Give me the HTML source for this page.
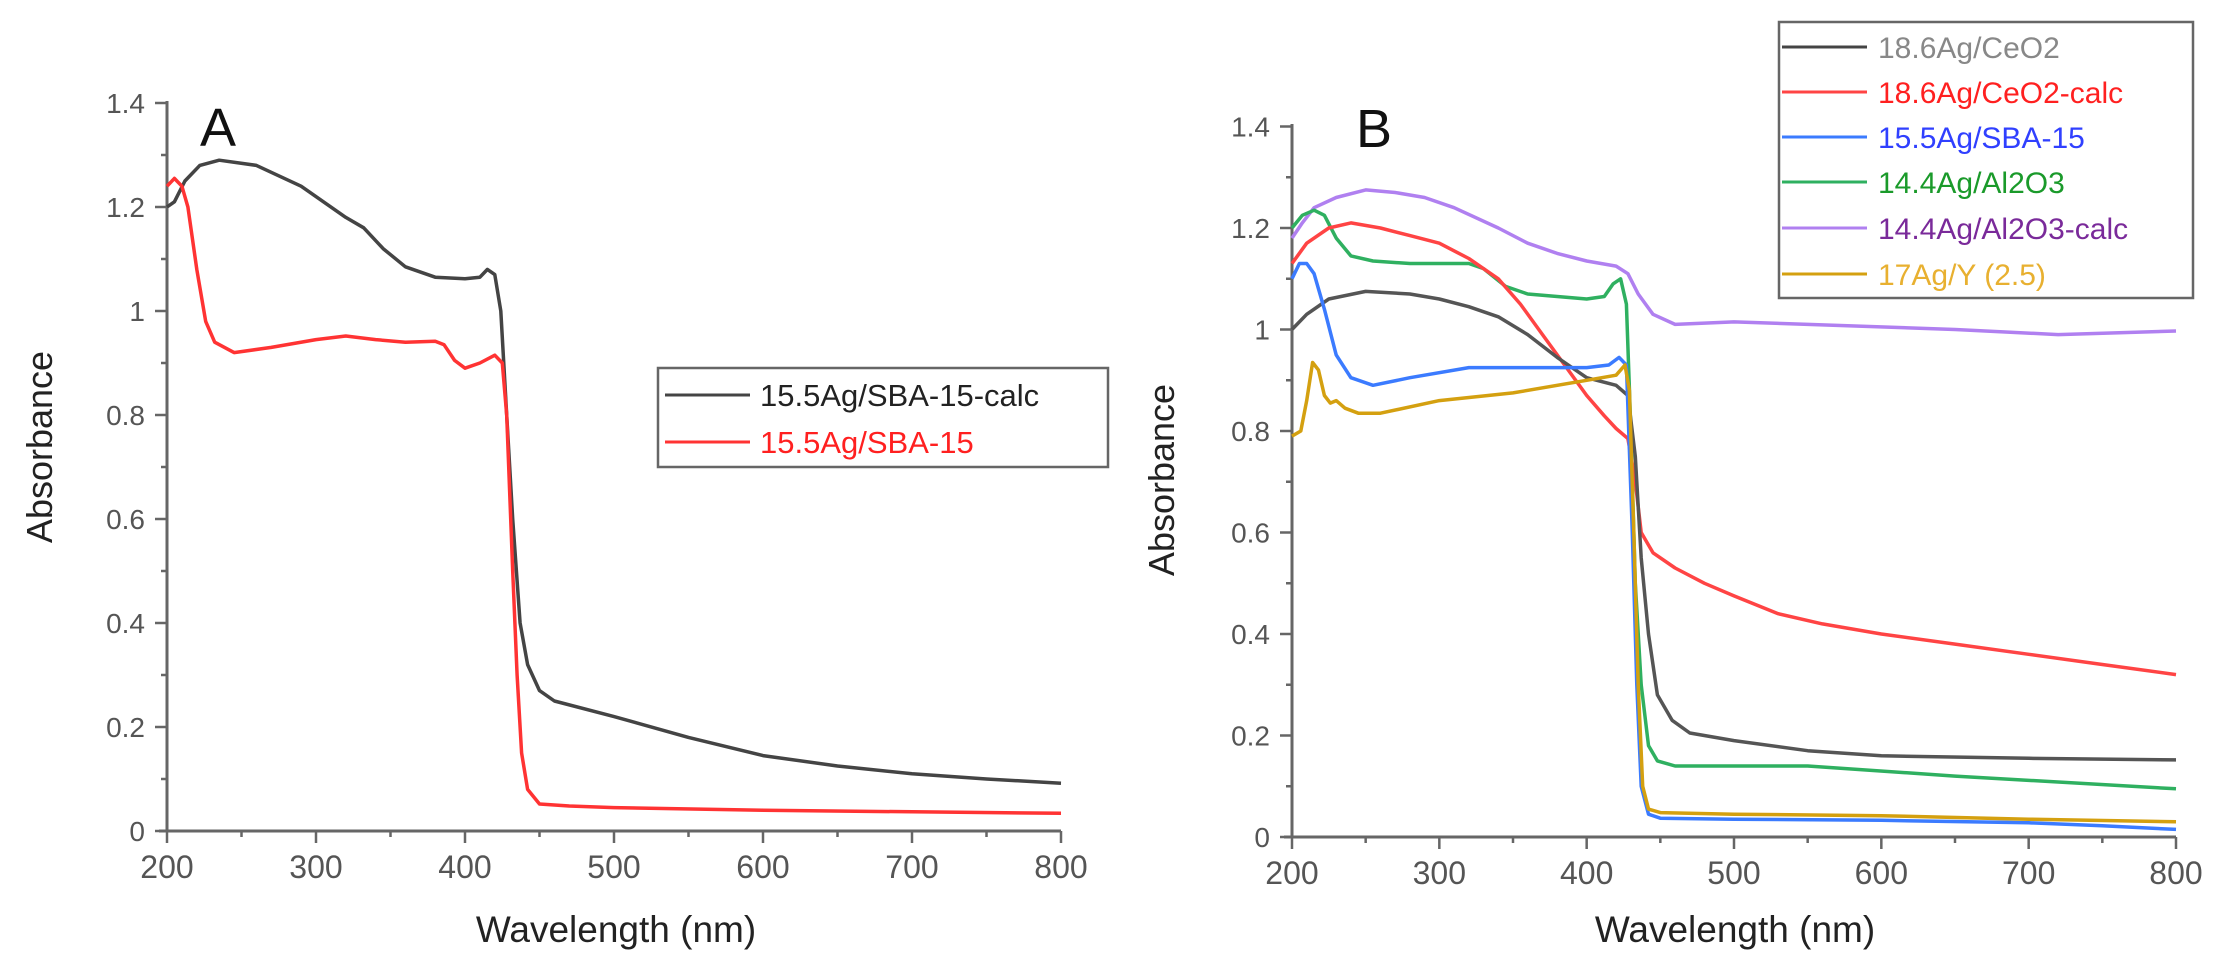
<!DOCTYPE html>
<html><head><meta charset="utf-8"><style>
html,body{margin:0;padding:0;background:#fff;}
svg{display:block;font-family:"Liberation Sans",Arial,sans-serif;}
</style></head><body>
<svg id="s" width="2232" height="968" viewBox="0 0 2232 968" xmlns="http://www.w3.org/2000/svg">
<rect width="2232" height="968" fill="#fff"/>
<g id="g"></g>
<!-- Panel A texts -->
<text x="200" y="146" font-size="54" fill="#111">A</text>
<text transform="translate(52,447) rotate(-90)" font-size="36" fill="#222" text-anchor="middle">Absorbance</text>
<text x="616" y="942" font-size="37" fill="#222" text-anchor="middle">Wavelength (nm)</text>
<rect x="658" y="368" width="450" height="99" fill="#fff" stroke="#666" stroke-width="2.5"/>
<line x1="665" y1="395" x2="750" y2="395" stroke="#444" stroke-width="3"/>
<line x1="665" y1="442" x2="750" y2="442" stroke="#ff3333" stroke-width="3"/>
<text x="760" y="406" font-size="31" fill="#222">15.5Ag/SBA-15-calc</text>
<text x="760" y="453" font-size="31" fill="#ff2020">15.5Ag/SBA-15</text>
<!-- Panel B texts -->
<text x="1356" y="147" font-size="54" fill="#111">B</text>
<text transform="translate(1174,480) rotate(-90)" font-size="36" fill="#222" text-anchor="middle">Absorbance</text>
<text x="1735" y="942" font-size="37" fill="#222" text-anchor="middle">Wavelength (nm)</text>
<rect x="1779" y="22" width="414" height="276" fill="#fff" stroke="#666" stroke-width="2.5"/>
<g stroke-width="3">
<line x1="1782" y1="47" x2="1867" y2="47" stroke="#444"/>
<line x1="1782" y1="92" x2="1867" y2="92" stroke="#ff4444"/>
<line x1="1782" y1="137" x2="1867" y2="137" stroke="#3b7bff"/>
<line x1="1782" y1="182" x2="1867" y2="182" stroke="#2fb060"/>
<line x1="1782" y1="228" x2="1867" y2="228" stroke="#b080f0"/>
<line x1="1782" y1="274" x2="1867" y2="274" stroke="#d4a010"/>
</g>
<g font-size="30">
<text x="1878" y="58" fill="#888">18.6Ag/CeO2</text>
<text x="1878" y="103" fill="#ff2020">18.6Ag/CeO2-calc</text>
<text x="1878" y="148" fill="#3040ff">15.5Ag/SBA-15</text>
<text x="1878" y="193" fill="#1a9a2a">14.4Ag/Al2O3</text>
<text x="1878" y="239" fill="#7a2a9a">14.4Ag/Al2O3-calc</text>
<text x="1878" y="285" fill="#e8b030">17Ag/Y (2.5)</text>
</g>
</svg>
<script>
var g=document.getElementById('g');var NS='http://www.w3.org/2000/svg';
function el(t,a){var e=document.createElementNS(NS,t);for(var k in a)e.setAttribute(k,a[k]);g.appendChild(e);return e;}
function axes(P){
 var ax='#666';
 el('line',{x1:P.x0,y1:P.yTop-2,x2:P.x0,y2:P.y0,stroke:ax,'stroke-width':3});
 el('line',{x1:P.x0-8,y1:P.y0,x2:P.x1,y2:P.y0,stroke:ax,'stroke-width':3});
 for(var i=0;i<=14;i++){var y=P.y0-i*P.u/10;var maj=i%2==0;
  el('line',{x1:P.x0-(maj?12:6),y1:y,x2:P.x0,y2:y,stroke:ax,'stroke-width':2.5});
  if(maj){var t=el('text',{x:P.x0-22,y:y+10,'font-size':28,fill:'#555','text-anchor':'end'});
   var v=i/10;t.textContent=(i==0?'0':(i==10?'1':v.toFixed(1)));}}
 for(var w=200;w<=800;w+=50){var x=P.x0+(w-200)*P.s;var maj=w%100==0;
  el('line',{x1:x,y1:P.y0,x2:x,y2:P.y0+(maj?12:6),stroke:ax,'stroke-width':2.5});
  if(maj){var t=el('text',{x:x,y:P.y0+47,'font-size':32,fill:'#555','text-anchor':'middle'});t.textContent=w;}}
}
function curve(P,d,c){
 var pts=[];for(var i=0;i<d.length;i+=2){pts.push((P.x0+(d[i]-200)*P.s).toFixed(1)+','+(P.y0-d[i+1]*P.u).toFixed(1));}
 el('polyline',{points:pts.join(' '),fill:'none',stroke:c,'stroke-width':3.5,'stroke-linejoin':'round'});
}
var A={x0:167,x1:1061,s:(1061-167)/600,y0:831,u:520,yTop:103};
var B={x0:1292,x1:2176,s:(2176-1292)/600,y0:837,u:507.5,yTop:126};
axes(A);axes(B);
curve(A,[200,1.2,205,1.21,212,1.25,222,1.28,235,1.29,260,1.28,290,1.24,320,1.18,332,1.16,345,1.12,360,1.085,380,1.065,400,1.062,410,1.065,415,1.08,420,1.07,424,1.0,428,0.8,432,0.6,437,0.4,442,0.32,450,0.27,460,0.25,500,0.22,550,0.18,600,0.145,650,0.125,700,0.11,750,0.1,800,0.092],'#444');
curve(A,[200,1.24,205,1.255,210,1.24,214,1.2,220,1.08,226,0.98,232,0.94,245,0.92,270,0.93,300,0.945,320,0.952,340,0.945,360,0.94,380,0.942,386,0.935,393,0.905,400,0.89,410,0.9,420,0.915,425,0.9,428,0.8,432,0.5,435,0.3,438,0.15,442,0.08,450,0.052,470,0.048,500,0.045,600,0.04,700,0.037,800,0.034],'#ff3333');
curve(B,[200,1.18,207,1.21,215,1.24,230,1.26,250,1.275,270,1.27,290,1.26,310,1.24,340,1.2,360,1.17,380,1.15,400,1.135,420,1.125,428,1.11,435,1.07,445,1.03,460,1.01,500,1.015,550,1.01,650,1.0,720,0.99,800,0.997],'#b080f0');
curve(B,[200,1.2,207,1.225,215,1.235,222,1.225,230,1.18,240,1.145,255,1.135,280,1.13,320,1.13,330,1.12,345,1.085,360,1.07,400,1.06,412,1.065,418,1.09,423,1.1,427,1.05,430,0.8,433,0.5,437,0.3,442,0.18,448,0.15,460,0.14,550,0.14,650,0.12,800,0.095],'#2fb060');
curve(B,[200,1.13,210,1.17,225,1.2,240,1.21,260,1.2,280,1.185,300,1.17,320,1.14,340,1.1,355,1.05,370,0.99,385,0.93,400,0.87,412,0.83,420,0.805,428,0.785,433,0.7,437,0.6,445,0.56,460,0.53,480,0.5,500,0.475,530,0.44,560,0.42,600,0.4,650,0.38,700,0.36,750,0.34,800,0.32],'#ff4444');
curve(B,[200,1.0,210,1.03,225,1.06,250,1.075,280,1.07,300,1.06,320,1.045,340,1.025,360,0.99,380,0.945,400,0.905,420,0.89,428,0.87,433,0.75,437,0.55,442,0.4,448,0.28,458,0.23,470,0.205,500,0.19,550,0.17,600,0.16,700,0.155,800,0.152],'#555');
curve(B,[200,1.1,205,1.13,210,1.13,215,1.11,222,1.04,230,0.95,240,0.905,255,0.89,280,0.905,320,0.925,360,0.925,400,0.925,415,0.93,422,0.945,427,0.93,431,0.6,434,0.3,437,0.1,442,0.045,450,0.037,500,0.035,600,0.033,700,0.028,750,0.022,800,0.015],'#3b7bff');
curve(B,[200,0.79,206,0.8,210,0.86,214,0.935,218,0.92,222,0.87,226,0.855,230,0.86,236,0.845,245,0.835,260,0.835,300,0.86,350,0.875,400,0.9,420,0.91,426,0.93,429,0.88,432,0.6,435,0.3,438,0.1,442,0.055,450,0.048,500,0.045,600,0.042,700,0.035,800,0.03],'#d4a010');
</script>
</body></html>
